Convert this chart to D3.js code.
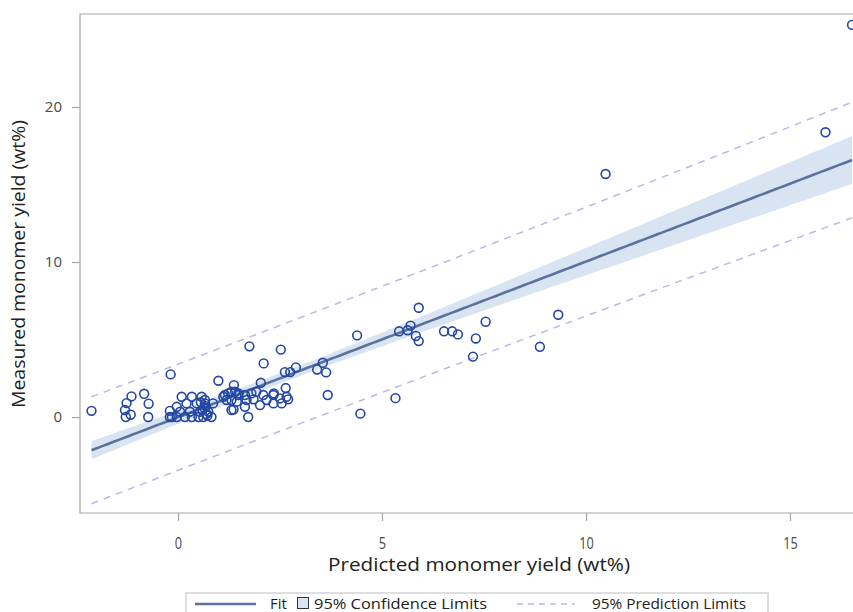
<!DOCTYPE html>
<html>
<head>
<meta charset="utf-8">
<script src="https://cdn.jsdelivr.net/npm/d3@7"></script>
<style>
  html, body { margin: 0; padding: 0; background: #fff; }
  svg { display: block; font-family: "Open Sans", "Noto Sans", sans-serif; }
</style>
</head>
<body>
<svg id="chart" width="853" height="612"></svg>
<script>
// Predicted vs measured monomer yield (wt%)
const predicted = [
  -2.12, -1.30, -1.26, -1.28, -1.16, -1.14, -0.83, -0.72, -0.73, -0.18,
  -0.20, -0.20, -0.15, -0.03, -0.03, 0.05, 0.09, 0.17, 0.21, 0.29,
  0.34, 0.34, 0.46, 0.50, 0.54, 0.58, 0.62, 0.64, 0.66, 0.66,
  0.70, 0.74, 0.82, 0.86, 0.99, 1.11, 1.15, 1.19, 1.23, 1.31,
  1.31, 1.31, 1.36, 1.37, 1.40, 1.44, 1.48, 1.48, 1.64, 1.64,
  1.68, 1.72, 1.75, 1.80, 1.85, 1.92, 2.01, 2.03, 2.09, 2.10,
  2.17, 2.34, 2.34, 2.35, 2.50, 2.52, 2.54, 2.62, 2.64, 2.66,
  2.70, 2.75, 2.89, 3.41, 3.55, 3.63, 3.67, 4.39, 4.47, 5.33,
  5.42, 5.63, 5.70, 5.83, 5.90, 5.90, 6.52, 6.72, 6.86, 7.23,
  7.30, 7.54, 8.87, 9.32, 10.48, 15.87, 16.52,
  0.60, 0.68, 0.72, 0.56
];
const measured = [
  0.40, 0.45, 0.90, 0.00, 0.15, 1.33, 1.50, 0.86, 0.00, 2.75,
  0.40, 0.00, 0.00, 0.00, 0.66, 0.34, 1.31, 0.00, 0.88, 0.34,
  1.31, 0.00, 0.88, 0.00, 0.34, 1.31, 0.00, 0.60, 0.88, 1.10,
  0.20, 0.34, 0.00, 0.88, 2.34, 1.31, 1.42, 1.10, 1.53, 1.10,
  1.63, 0.45, 0.49, 2.06, 1.63, 0.99, 1.42, 1.53, 1.42, 0.66,
  1.10, 0.00, 4.56, 1.53, 1.14, 1.63, 0.77, 2.21, 1.42, 3.46,
  1.10, 1.42, 0.88, 1.53, 1.20, 4.35, 0.88, 2.90, 1.87, 1.31,
  1.14, 2.90, 3.20, 3.07, 3.50, 2.88, 1.42, 5.27, 0.22, 1.22,
  5.53, 5.60, 5.90, 5.23, 4.90, 7.05, 5.53, 5.53, 5.33, 3.90,
  5.07, 6.15, 4.53, 6.60, 15.68, 18.37, 25.30,
  0.45, 0.70, 0.10, 0.95
];

const xTicks = [0, 5, 10, 15];
const yTicks = [0, 10, 20];
const xTitle = "Predicted monomer yield (wt%)";
const yTitle = "Measured monomer yield (wt%)";
const legendLabels = ["Fit", "95% Confidence Limits", "95% Prediction Limits"];
const tCrit = 1.984; // two-sided 95% t quantile, df = n - 2

const W = 853, H = 612;
const plot = { left: 80, top: 14, right: 853, bottom: 513 };

const x = d3.scaleLinear().domain([-2.402, 16.544]).range([plot.left, plot.right]);
const y = d3.scaleLinear().domain([-6.19, 26.0]).range([plot.bottom, plot.top]);

const svg = d3.select("#chart");
svg.append("rect").attr("width", W).attr("height", H).attr("fill", "#fff");

// Ordinary least squares fit with confidence and prediction limits
const pts = predicted.map((p, i) => ({ p, m: measured[i] }));
const n = pts.length;
const xbar = d3.mean(pts, d => d.p);
const ybar = d3.mean(pts, d => d.m);
const sxx = d3.sum(pts, d => (d.p - xbar) ** 2);
const sxy = d3.sum(pts, d => (d.p - xbar) * (d.m - ybar));
const slope = sxy / sxx;
const intercept = ybar - slope * xbar;
const sse = d3.sum(pts, d => (d.m - intercept - slope * d.p) ** 2);
const s = Math.sqrt(sse / (n - 2));

const [xmin, xmax] = d3.extent(predicted);
const grid = d3.range(0, 201).map(i => xmin + (xmax - xmin) * i / 200);
const band = grid.map(v => {
  const fit = intercept + slope * v;
  const h = 1 / n + (v - xbar) ** 2 / sxx;
  const ci = tCrit * s * Math.sqrt(h);
  const pi = tCrit * s * Math.sqrt(1 + h);
  return { v, fit, clo: fit - ci, chi: fit + ci, plo: fit - pi, phi: fit + pi };
});

svg.append("clipPath").attr("id", "clip")
  .append("rect")
  .attr("x", plot.left).attr("y", plot.top)
  .attr("width", plot.right - plot.left).attr("height", plot.bottom - plot.top);

const g = svg.append("g").attr("clip-path", "url(#clip)");

// confidence band
g.append("path")
  .datum(band)
  .attr("fill", "#d9e4f2")
  .attr("d", d3.area().x(d => x(d.v)).y0(d => y(d.clo)).y1(d => y(d.chi)));

// prediction limits
["plo", "phi"].forEach(k => {
  g.append("path")
    .datum(band)
    .attr("fill", "none")
    .attr("stroke", "#b9b9e6")
    .attr("stroke-width", 1.5)
    .attr("stroke-dasharray", "7,6")
    .attr("d", d3.line().x(d => x(d.v)).y(d => y(d[k])));
});

// fit line
g.append("path")
  .datum(band)
  .attr("fill", "none")
  .attr("stroke", "#5c719b")
  .attr("stroke-width", 2.6)
  .attr("d", d3.line().x(d => x(d.v)).y(d => y(d.fit)));

// observations
g.selectAll("circle.obs")
  .data(pts)
  .join("circle")
  .attr("class", "obs")
  .attr("cx", d => x(d.p))
  .attr("cy", d => y(d.m))
  .attr("r", 4.4)
  .attr("fill", "none")
  .attr("stroke", "#2447a5")
  .attr("stroke-width", 1.6);

// frame
const frameColor = "#a6a6a6";
svg.append("path")
  .attr("fill", "none")
  .attr("stroke", frameColor)
  .attr("stroke-width", 1.2)
  .attr("d", `M${plot.right + 2},${plot.top}H${plot.left}V${plot.bottom}H${plot.right + 2}`);

// axes
const xAxis = d3.axisBottom(x).tickValues(xTicks).tickSize(8).tickPadding(16).tickFormat(d3.format("d"));
const yAxis = d3.axisLeft(y).tickValues(yTicks).tickSize(8).tickPadding(10).tickFormat(d3.format("d"));

const gx = svg.append("g").attr("transform", `translate(0,${plot.bottom})`).call(xAxis);
const gy = svg.append("g").attr("transform", `translate(${plot.left},0)`).call(yAxis);
[gx, gy].forEach(a => {
  a.select(".domain").remove();
  a.selectAll(".tick line").attr("stroke", frameColor).attr("stroke-width", 1.2);
  a.selectAll(".tick text")
    .attr("fill", "#4a4a4a")
    .style("font-family", "'Open Sans', sans-serif")
    .style("font-size", "15px");
});
// narrower, taller glyphs for the horizontal axis numbers
gx.selectAll(".tick text").style("font-size", "17px").attr("transform", "scale(0.75,1)");

// axis titles
svg.append("text")
  .attr("x", 479).attr("y", 571)
  .attr("text-anchor", "middle")
  .attr("fill", "#222")
  .style("font-size", "18px")
  .attr("textLength", 302).attr("lengthAdjust", "spacingAndGlyphs")
  .text(xTitle);

svg.append("text")
  .attr("transform", "translate(25,264) rotate(-90)")
  .attr("text-anchor", "middle")
  .attr("fill", "#222")
  .style("font-size", "18px")
  .attr("textLength", 288).attr("lengthAdjust", "spacingAndGlyphs")
  .text(yTitle);

// legend
const lg = svg.append("g");
lg.append("rect")
  .attr("x", 186).attr("y", 593).attr("width", 582).attr("height", 30)
  .attr("fill", "#fff").attr("stroke", "#c9c9c9").attr("stroke-width", 1.2);
lg.append("line")
  .attr("x1", 195).attr("x2", 256).attr("y1", 604).attr("y2", 604)
  .attr("stroke", "#5c719b").attr("stroke-width", 2.6);
lg.append("text")
  .attr("x", 270).attr("y", 609).attr("fill", "#222").style("font-size", "15px")
  .text(legendLabels[0]);
lg.append("rect")
  .attr("x", 297.5).attr("y", 597.5).attr("width", 11).attr("height", 11)
  .attr("fill", "#d9e4f2").attr("stroke", "#333").attr("stroke-width", 1);
lg.append("text")
  .attr("x", 314).attr("y", 609).attr("fill", "#222").style("font-size", "15px")
  .attr("textLength", 173).attr("lengthAdjust", "spacingAndGlyphs")
  .text(legendLabels[1]);
lg.append("line")
  .attr("x1", 517).attr("x2", 575).attr("y1", 604).attr("y2", 604)
  .attr("stroke", "#b9b9e6").attr("stroke-width", 1.5).attr("stroke-dasharray", "6,5");
lg.append("text")
  .attr("x", 592).attr("y", 609).attr("fill", "#222").style("font-size", "15px")
  .attr("textLength", 154).attr("lengthAdjust", "spacingAndGlyphs")
  .text(legendLabels[2]);
</script>
</body>
</html>
